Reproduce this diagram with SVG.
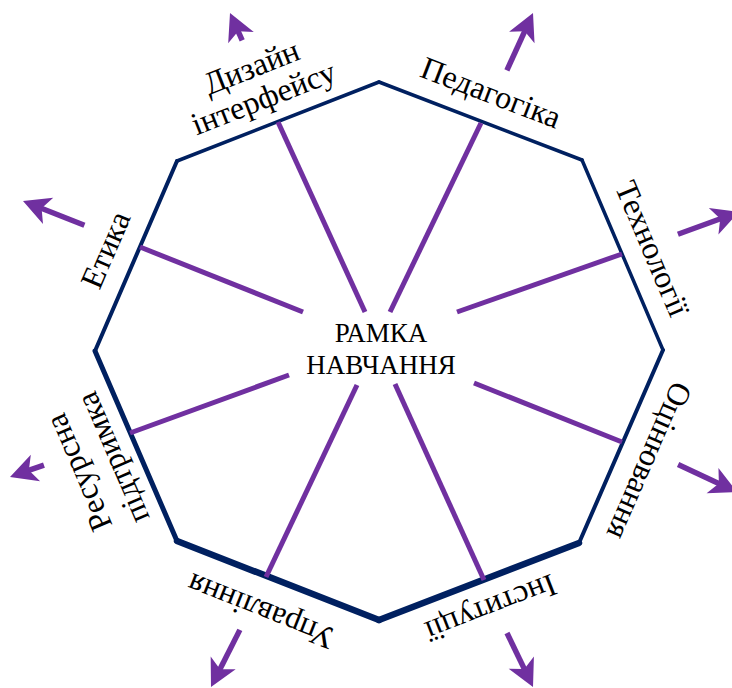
<svg xmlns="http://www.w3.org/2000/svg" xmlns:xlink="http://www.w3.org/1999/xlink" width="732" height="688" viewBox="0 0 732 688">
<style>
.edge{stroke:#002060;fill:none;stroke-linecap:round;stroke-linejoin:round}
.spoke{stroke:#7030A0;stroke-width:5;fill:none}
.shaft{stroke:#7030A0;stroke-width:5.5;fill:none}
.head{fill:#7030A0;stroke:none}
text{font-family:"Liberation Serif","Times New Roman","DejaVu Serif",serif;fill:#000;text-anchor:middle}
.lbl{font-size:32px}
.ctr{font-size:27px}
</style>
<defs>
<path id="ah" class="head" d="M0,0 L-27,-14 L-20,0 L-27,14 Z"/>
</defs>
<rect width="732" height="688" fill="#fff"/>
<g id="frame">
<line class="edge" stroke-width="3.5" x1="177" y1="161" x2="379" y2="82"/>
<line class="edge" stroke-width="3.5" x1="379" y1="82" x2="582" y2="160"/>
<line class="edge" stroke-width="3.5" x1="582" y1="160" x2="663" y2="350"/>
<line class="edge" stroke-width="4" x1="663" y1="350" x2="579" y2="543"/>
<line class="edge" stroke-width="6.5" x1="579" y1="543" x2="379" y2="620"/>
<line class="edge" stroke-width="6.5" x1="379" y1="620" x2="177" y2="541"/>
<line class="edge" stroke-width="5" x1="177" y1="541" x2="95" y2="351"/>
<line class="edge" stroke-width="4" x1="95" y1="351" x2="177" y2="161"/>
</g>
<g id="connectors">
<line class="spoke" x1="278" y1="122" x2="365" y2="312"/>
<line class="spoke" x1="481" y1="123" x2="390" y2="312"/>
<line class="spoke" x1="622" y1="254" x2="457" y2="312"/>
<line class="spoke" x1="622" y1="442" x2="474" y2="383"/>
<line class="spoke" x1="484" y1="580" x2="395" y2="384"/>
<line class="spoke" x1="266" y1="577" x2="357" y2="385"/>
<line class="spoke" x1="130" y1="433" x2="289" y2="375"/>
<line class="spoke" x1="140" y1="247" x2="303" y2="312"/>
<g transform="translate(230,13) rotate(-114)"><line class="shaft" x1="-30" y1="0" x2="-19" y2="0"/><use xlink:href="#ah"/></g>
<g transform="translate(533,13) rotate(-65.5)"><line class="shaft" x1="-63" y1="0" x2="-19" y2="0"/><use xlink:href="#ah"/></g>
<g transform="translate(739,212) rotate(-20)"><line class="shaft" x1="-65" y1="0" x2="-19" y2="0"/><use xlink:href="#ah"/></g>
<g transform="translate(737,492) rotate(25)"><line class="shaft" x1="-65" y1="0" x2="-19" y2="0"/><use xlink:href="#ah"/></g>
<g transform="translate(533,687) rotate(64.3)"><line class="shaft" x1="-60" y1="0" x2="-19" y2="0"/><use xlink:href="#ah"/></g>
<g transform="translate(211,687) rotate(116.8)"><line class="shaft" x1="-64" y1="0" x2="-19" y2="0"/><use xlink:href="#ah"/></g>
<g transform="translate(10,477) rotate(160.6)"><line class="shaft" x1="-36" y1="0" x2="-19" y2="0"/><use xlink:href="#ah"/></g>
<g transform="translate(23,201) rotate(-158.5)"><line class="shaft" x1="-66" y1="0" x2="-19" y2="0"/><use xlink:href="#ah"/></g>
</g>
<g id="center"><text class="ctr" x="381" y="342">РАМКА</text><text class="ctr" x="381" y="374">НАВЧАННЯ</text></g>
<g id="design" transform="translate(258.5,85.5) rotate(-21.4)"><text class="lbl"><tspan x="0" y="-9">Дизайн</tspan><tspan x="0" y="24">інтерфейсу</tspan></text></g>
<g id="pedagogy" transform="translate(490,95) rotate(21)"><text class="lbl" x="0" y="8">Педагогіка</text></g>
<g id="technology" transform="translate(652,249) rotate(66.9)"><text class="lbl" x="0" y="10">Технології</text></g>
<g id="assessment" transform="translate(647,460) rotate(113.5)"><text class="lbl" x="0" y="8">Оцінювання</text></g>
<g id="institutions" transform="translate(490,606) rotate(158.7)"><text class="lbl" x="0" y="8">Інституції</text></g>
<g id="management" transform="translate(262,609) rotate(-158.4)"><text class="lbl" x="0" y="8">Управління</text></g>
<g id="resources" transform="translate(98.5,464) rotate(-113.3)"><text class="lbl"><tspan x="0" y="-11">Ресурсна</tspan><tspan x="0" y="26">підтримка</tspan></text></g>
<g id="ethics" transform="translate(106,250) rotate(-66.7)"><text class="lbl" x="0" y="10">Етика</text></g>
</svg>
